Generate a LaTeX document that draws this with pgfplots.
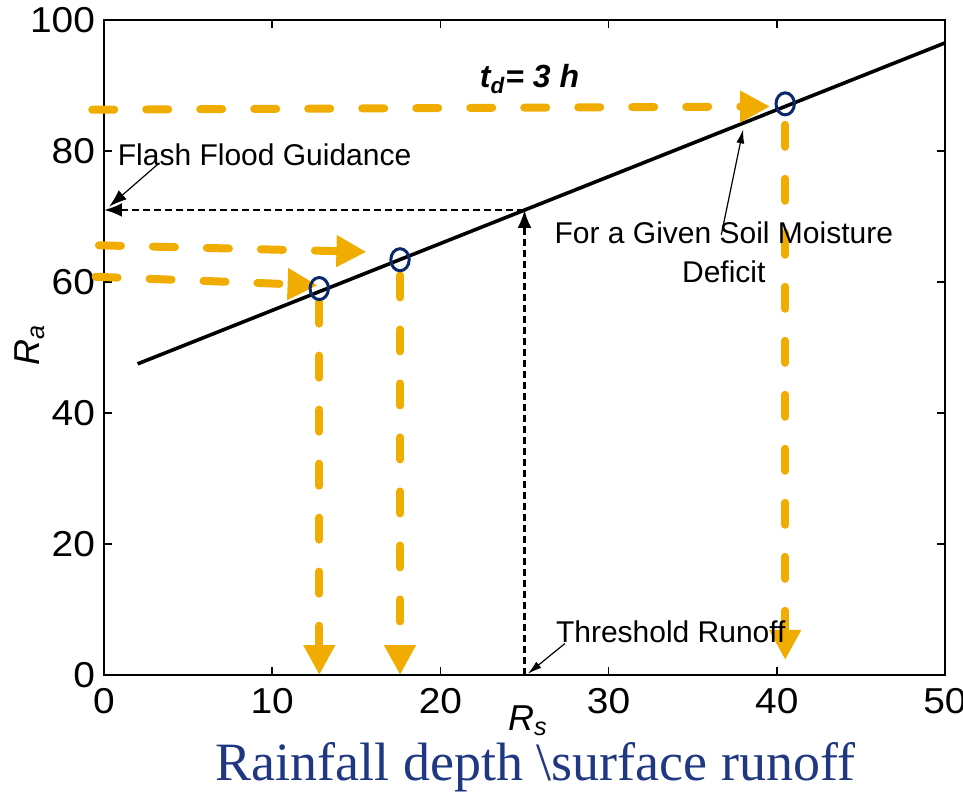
\documentclass[border=0pt]{standalone}
\usepackage{pgfplots}
\pgfplotsset{compat=1.18}
\usepackage{fontspec}
\setmainfont{Liberation Sans}
\newfontfamily\tickfont[FakeStretch=1.08]{Liberation Sans}
\newfontfamily\seriffont{Liberation Serif}
\usetikzlibrary{arrows.meta}
\definecolor{org}{RGB}{240,173,0}
\definecolor{navy}{RGB}{10,40,110}
\definecolor{dblue}{RGB}{32,56,130}
\begin{document}
\begin{tikzpicture}
\begin{axis}[
  name=ax, at={(0,0)}, anchor=south west,
  scale only axis, width=420.5pt, height=327.5pt,
  xmin=0, xmax=50, ymin=0, ymax=100,
  xtick={0,10,...,50}, ytick={0,20,...,100},
  tick align=inside, major tick length=4pt,
  axis line style={line width=1pt},
  tick style={line width=0.8pt, black},
  ticklabel style={font=\tickfont\fontsize{18}{20}\selectfont},
  /pgf/number format/assume math mode=true,
  xticklabel style={yshift=-3pt},
  yticklabel style={xshift=-1pt},
  clip=false,
]
% main curve
\addplot[black, line width=1.8pt] coordinates {(2,47.5) (50,96.5)};
% black dashed guides
\addplot[black, line width=1.3pt, dash pattern=on 3.5pt off 2pt, -{Latex[length=9pt,width=7pt]}] coordinates {(25,71) (0,71)};
\addplot[black, line width=1.3pt, dash pattern=on 3.5pt off 2pt, -{Latex[length=9pt,width=7pt]}] coordinates {(25,0) (25,71)};
% orange dashed arrows
\addplot[org, line width=4pt, line cap=round, dash pattern=on 11pt off 16pt, -{Triangle[length=15pt,width=15pt]}] coordinates {(-0.7,86.3) (39.6,86.8)};
\addplot[org, line width=4pt, line cap=round, dash pattern=on 11pt off 16pt, -{Triangle[length=15pt,width=15pt]}] coordinates {(-0.3,65.6) (15.6,64.6)};
\addplot[org, line width=4pt, line cap=round, dash pattern=on 11pt off 16pt, -{Triangle[length=15pt,width=15pt]}] coordinates {(-0.5,60.8) (12.7,59.5)};
\addplot[org, line width=4pt, line cap=round, dash pattern=on 11pt off 16pt, -{Triangle[length=15pt,width=15pt]}] coordinates {(12.8,57) (12.8,0)};
\addplot[org, line width=4pt, line cap=round, dash pattern=on 11pt off 16pt, -{Triangle[length=15pt,width=15pt]}] coordinates {(17.6,61) (17.6,0)};
\addplot[org, line width=4pt, line cap=round, dash pattern=on 11pt off 16pt, -{Triangle[length=15pt,width=15pt]}] coordinates {(40.5,84) (40.5,2.3)};
% circles
\addplot[only marks, mark=o, navy, mark size=4.6pt, mark options={line width=1.5pt, yscale=1.2}] coordinates {(12.8,59) (17.6,63.4) (40.5,87.2)};
% annotation arrows
\addplot[black, line width=0.6pt, -{Latex[length=9pt,width=6pt]}] coordinates {(3.3,78.2) (0.3,71.5)};
\addplot[black, line width=0.6pt, -{Latex[length=7pt,width=4pt]}] coordinates {(36.7,67.2) (38.0,83.3)};
\addplot[black, line width=0.6pt, -{Latex[length=7pt,width=4pt]}] coordinates {(27.4,4.8) (25.2,0.2)};
% texts
\node[anchor=west, font=\fontsize{15}{18}\selectfont, inner sep=0pt] at (axis cs:0.8,79.4) {Flash Flood Guidance};
\node[align=center, font=\fontsize{15}{19.5}\selectfont, inner sep=0pt] at (axis cs:36.85,64.6) {For a Given Soil Moisture\\Deficit};
\node[anchor=west, font=\fontsize{15}{18}\selectfont, inner sep=0pt] at (axis cs:26.85,6.6) {Threshold Runoff};
\node[font=\fontsize{16}{18}\selectfont\bfseries\itshape, inner sep=0pt] at (axis cs:25.3,91) {t\textsubscript{d}= 3 h};
\node[rotate=90, font=\fontsize{18}{20}\selectfont\itshape, inner sep=0pt] at ([xshift=-37pt]rel axis cs:0,0.504) {R\textsubscript{a}};
\node[font=\fontsize{18}{20}\selectfont\itshape, inner sep=0pt] at ([yshift=-23pt]axis cs:25.2,0) {R\textsubscript{s}};
\node[font=\seriffont\fontsize{27}{29}\selectfont, text=dblue, inner sep=0pt] at ([yshift=-46pt]axis cs:25.65,0) {Rainfall depth \textbackslash surface runoff};
\end{axis}
\pgfresetboundingbox
\useasboundingbox ([shift={(-52pt,-58.5pt)}]ax.south west) rectangle ([shift={(9pt,10pt)}]ax.north east);
\end{tikzpicture}
\end{document}
